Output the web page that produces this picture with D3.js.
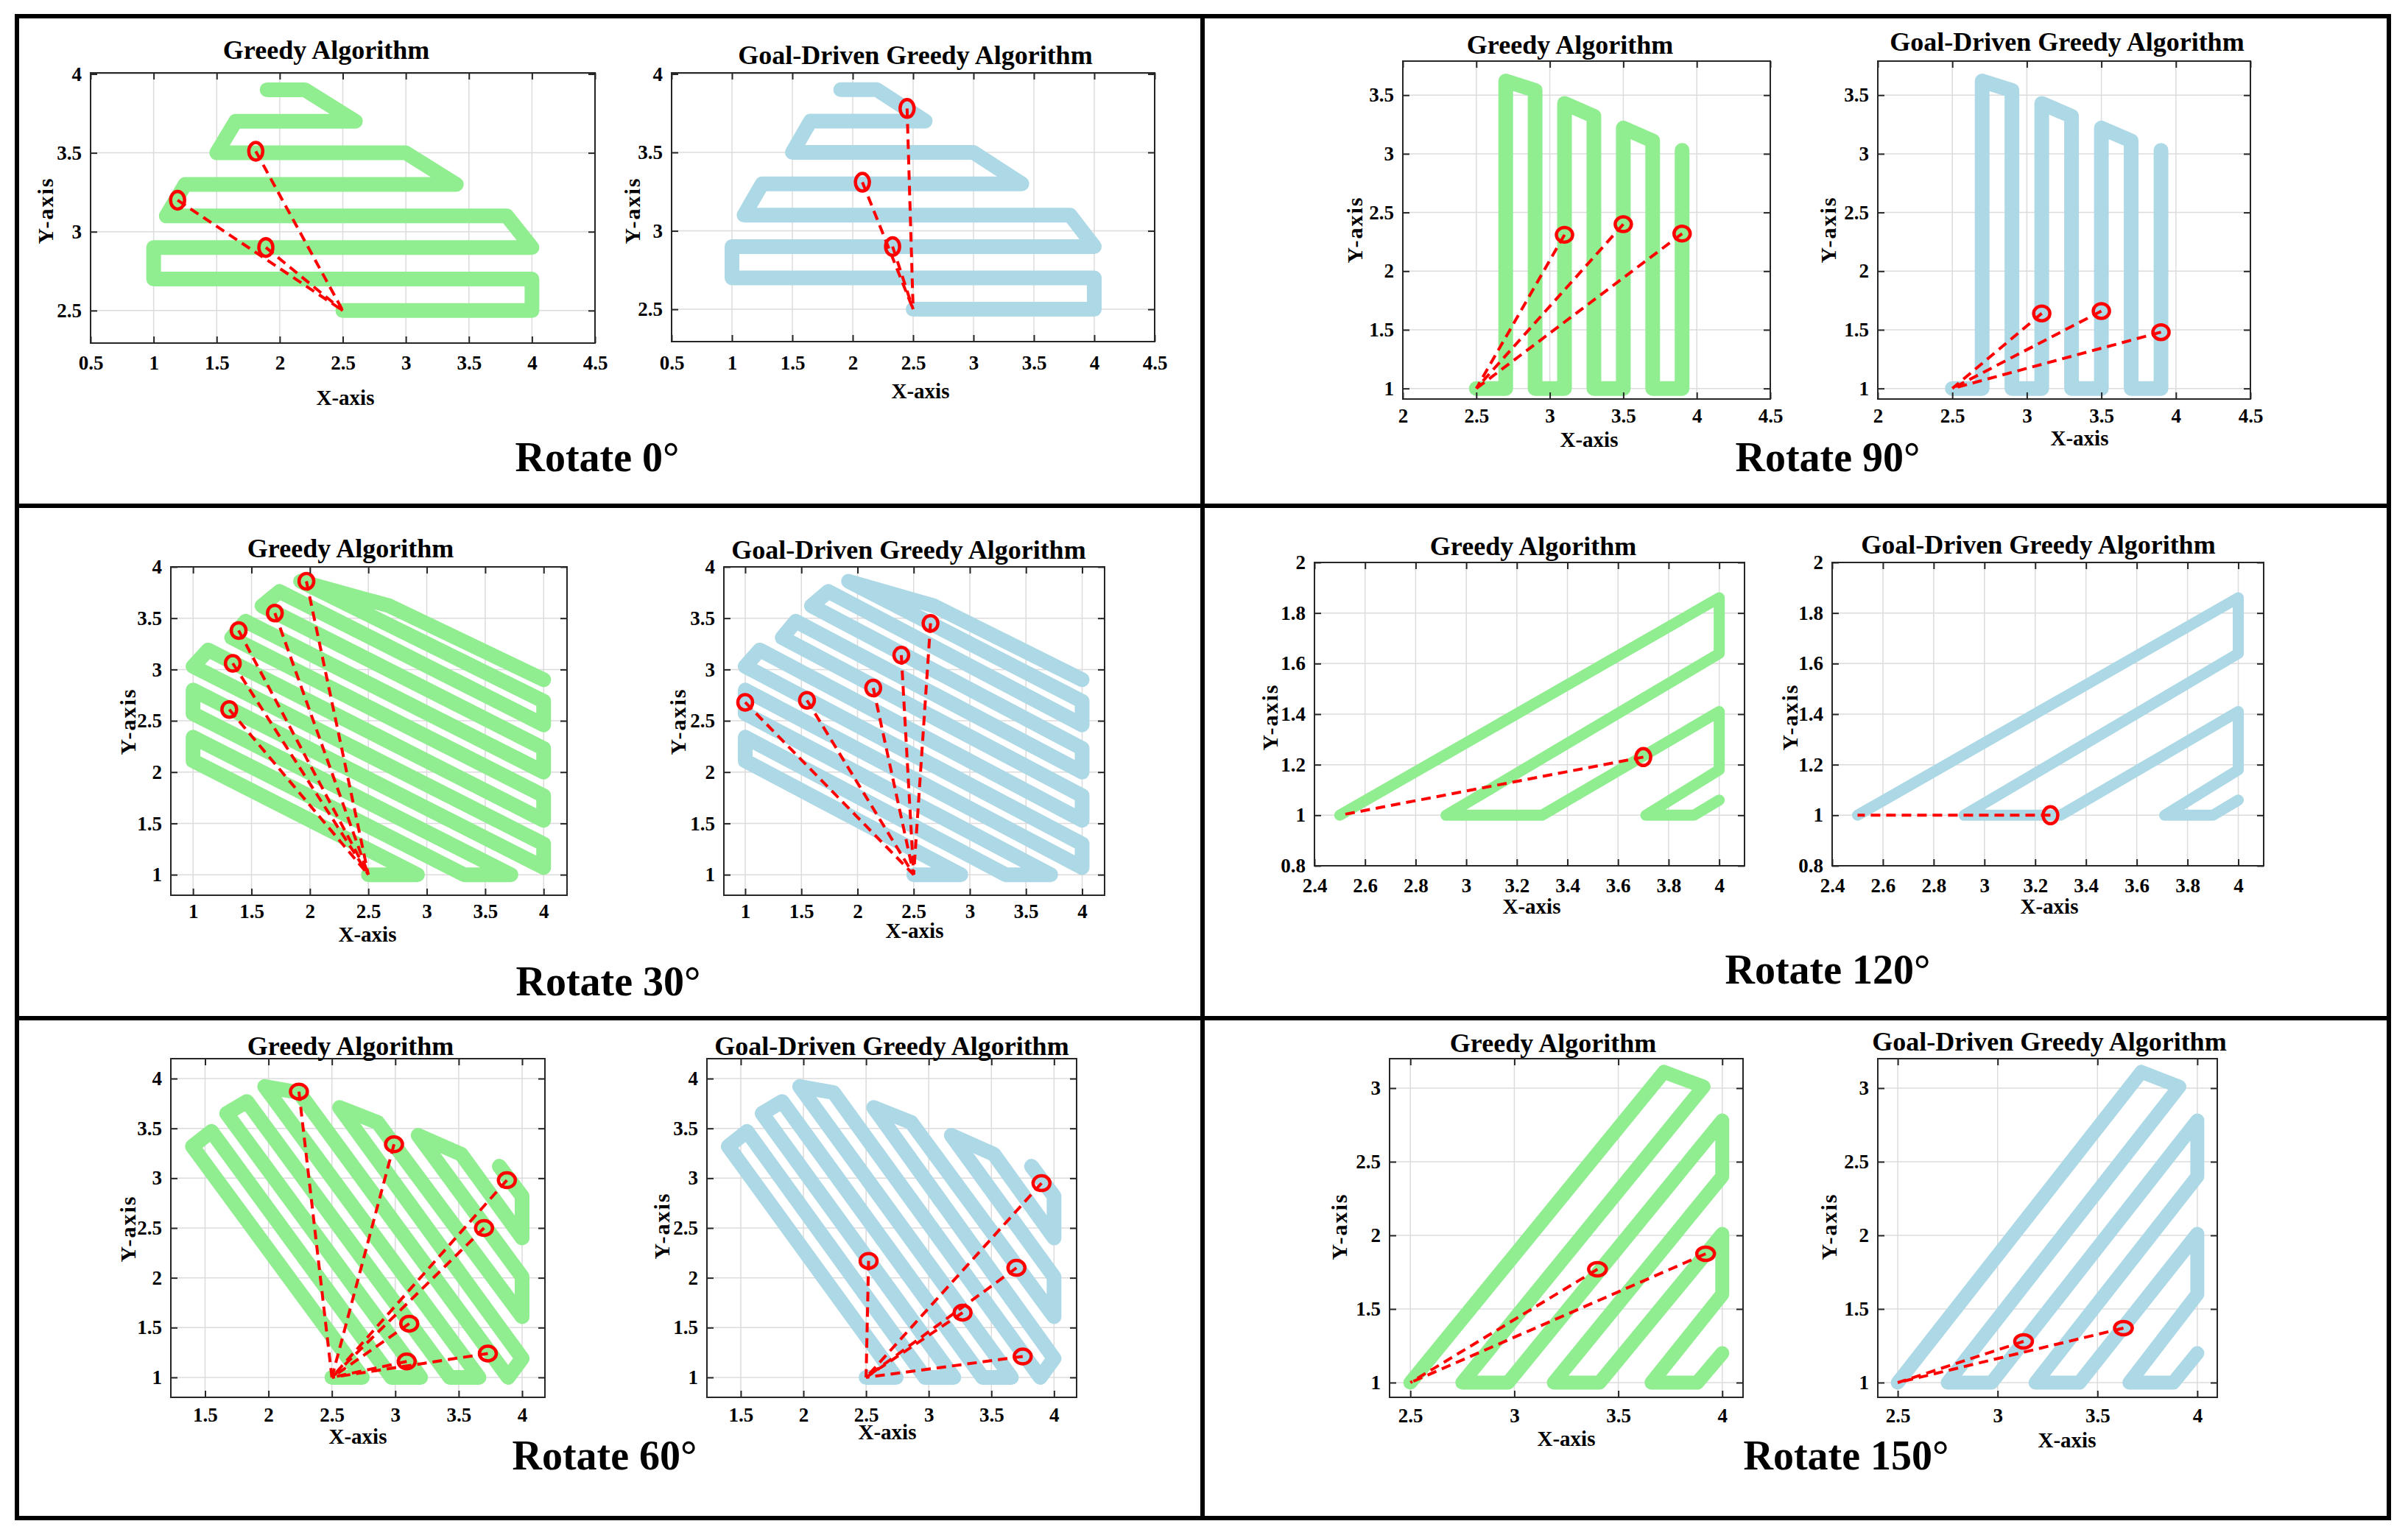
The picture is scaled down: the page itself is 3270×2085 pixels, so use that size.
<!DOCTYPE html>
<meta charset="utf-8">
<head>
<style>
  body { margin: 0; background: #fff; }
  svg text { font-family: "Liberation Serif", "Times New Roman", serif; font-weight: bold; fill: #000; }
</style>
</head>
<body>

<script src="https://cdn.jsdelivr.net/npm/d3@7"></script>

<svg id="fig" width="3270" height="2085"></svg>

<script>

// ---- values ----
var titles = ["Greedy Algorithm", "Goal-Driven Greedy Algorithm"];
var captions = ["Rotate 0°", "Rotate 90°", "Rotate 30°", "Rotate 120°", "Rotate 60°", "Rotate 150°"];

// coverage paths (same path in both subplots of a panel)
var path0 = [[2.5,2.5],[4.0,2.5],[4.0,2.7],[1.0,2.7],[1.0,2.9],[4.0,2.9],[3.8,3.1],[1.1,3.1],
             [1.25,3.3],[3.4,3.3],[3.0,3.5],[1.5,3.5],[1.65,3.7],[2.6,3.7],[2.2,3.9],[1.9,3.9]];
var path90 = [[2.5,1],[2.7,1],[2.7,3.62],[2.9,3.54],[2.9,1],[3.1,1],[3.1,3.43],[3.3,3.32],[3.3,1],
              [3.5,1],[3.5,3.22],[3.7,3.11],[3.7,1],[3.9,1],[3.9,3.03]];
var path30 = [[2.5,1.0],[2.92,1.0],[1.0,2.11],[1.0,2.34],[3.32,1.0],[3.72,1.0],[1.0,2.57],[1.0,2.80],
              [4.0,1.07],[4.0,1.30],[1.0,3.03],[1.13,3.19],[4.0,1.53],[4.0,1.77],[1.33,3.31],[1.45,3.47],
              [4.0,2.00],[4.0,2.23],[1.59,3.62],[1.74,3.76],[4.0,2.46],[4.0,2.69],[1.92,3.86],[2.68,3.62],[4.0,2.90]];
var path120 = [[2.5,1.0],[4.0,1.86],[4.0,1.64],[2.92,1.0],[3.30,1.0],[4.0,1.41],[4.0,1.18],[3.71,1.0],[3.90,1.0],[4.0,1.06]];
var path60 = [[2.5,1.0],[2.74,1.0],[1.40,3.32],[1.55,3.47],[2.97,1.0],[3.20,1.0],[1.67,3.65],[1.83,3.77],
              [3.43,1.0],[3.66,1.0],[1.97,3.92],[2.24,3.86],[3.89,1.0],[4.0,1.19],[2.56,3.71],[2.86,3.56],
              [4.0,1.61],[4.0,2.01],[3.18,3.43],[3.52,3.24],[4.0,2.40],[4.0,2.82],[3.82,3.12]];
var path150 = [[2.5,1.0],[3.72,3.11],[3.91,3.01],[2.75,1.0],[2.97,1.0],[4.0,2.78],[4.0,2.40],[3.19,1.0],
               [3.41,1.0],[4.0,2.01],[4.0,1.60],[3.66,1.0],[3.88,1.0],[4.0,1.20]];

// start points and red target markers
var start0 = [2.5,2.5], start90 = [2.5,1], start30 = [2.5,1], start120 = [2.5,1], start60 = [2.5,1], start150 = [2.5,1];

var greedy0 = [[1.81,3.51],[1.19,3.20],[1.89,2.90]];
var goal0   = [[2.45,3.78],[2.08,3.31],[2.33,2.90]];
var greedy90 = [[3.10,2.31],[3.50,2.40],[3.90,2.32]];
var goal90   = [[3.10,1.64],[3.50,1.66],[3.90,1.48]];
var greedy30 = [[1.97,3.86],[1.70,3.55],[1.39,3.38],[1.34,3.06],[1.31,2.61]];
var goal30   = [[1.0,2.68],[1.55,2.70],[2.14,2.82],[2.39,3.14],[2.65,3.45]];
var greedy120 = [[3.70,1.23]];
var goal120   = [[3.26,1.0]];
var greedy60 = [[2.24,3.87],[2.99,3.34],[3.88,2.98],[3.70,2.50],[3.11,1.54],[3.09,1.16],[3.73,1.24]];
var goal60   = [[2.52,2.17],[3.70,2.10],[3.27,1.65],[3.90,2.95],[3.75,1.21]];
var greedy150 = [[3.40,1.77],[3.92,1.875]];
var goal150   = [[3.13,1.28],[3.63,1.37]];

// axis limits and tick labels
var xLim0 = [0.5,4.5],  yLim0 = [2.294,4.007];
var xTicks0 = [0.5,1,1.5,2,2.5,3,3.5,4,4.5], yTicks0 = [2.5,3,3.5,4];
var xLim90 = [2,4.5],   yLim90 = [0.91,3.79];
var xTicks90 = [2,2.5,3,3.5,4,4.5], yTicks90 = [1,1.5,2,2.5,3,3.5];
var xLim30 = [0.81,4.2], yLim30 = [0.8,4.0];
var xTicks30 = [1,1.5,2,2.5,3,3.5,4], yTicks30 = [1,1.5,2,2.5,3,3.5,4];
var xLim120 = [2.4,4.1], yLim120 = [0.8,2.0];
var xTicks120 = [2.4,2.6,2.8,3,3.2,3.4,3.6,3.8,4], yTicks120 = [0.8,1,1.2,1.4,1.6,1.8,2];
var xLim60 = [1.23,4.18], yLim60 = [0.8,4.2];
var xTicks60 = [1.5,2,2.5,3,3.5,4], yTicks60 = [1,1.5,2,2.5,3,3.5,4];
var xLim150 = [2.4,4.1], yLim150 = [0.9,3.2];
var xTicks150 = [2.5,3,3.5,4], yTicks150 = [1,1.5,2,2.5,3];

// ---- panels: data + where things sit on the page ----
var panels = [
  { caption: captions[0], path: path0, start: start0, targets: [greedy0, goal0],
    xLim: xLim0, yLim: yLim0, xTicks: xTicks0, yTicks: yTicks0,
    capPos: [811,620], lw: 20, mk: [9.5,12],
    axes: [ {box:[123,808,99,466],  title:[443,67],  xlab:[469,540],  ylab:[61,286],  tickY:493},
            {box:[912,1568,99,464], title:[1243,74], xlab:[1250,531], ylab:[858,286], tickY:493} ] },
  { caption: captions[1], path: path90, start: start90, targets: [greedy90, goal90],
    xLim: xLim90, yLim: yLim90, xTicks: xTicks90, yTicks: yTicks90,
    capPos: [2482,620], lw: 20, mk: [11,10],
    axes: [ {box:[1905,2404,83,542], title:[2132,60], xlab:[2158,597], ylab:[1839,312], tickY:565},
            {box:[2550,3056,83,542], title:[2807,56], xlab:[2824,595], ylab:[2482,312], tickY:565} ] },
  { caption: captions[2], path: path30, start: start30, targets: [greedy30, goal30],
    xLim: xLim30, yLim: yLim30, xTicks: xTicks30, yTicks: yTicks30,
    capPos: [826,1332], lw: 20, mk: [10,10.5],
    axes: [ {box:[232,770,770,1216],  title:[476,744],  xlab:[499,1269],  ylab:[173,980], tickY:1238},
            {box:[983,1500,770,1216], title:[1234,746], xlab:[1242,1264], ylab:[920,980], tickY:1238} ] },
  { caption: captions[3], path: path120, start: start120, targets: [greedy120, goal120],
    xLim: xLim120, yLim: yLim120, xTicks: xTicks120, yTicks: yTicks120,
    capPos: [2482,1316], lw: 15, mk: [10,11.5],
    axes: [ {box:[1785,2369,764,1176], title:[2082,741], xlab:[2080,1231], ylab:[1724,974], tickY:1203},
            {box:[2488,3074,764,1176], title:[2768,739], xlab:[2783,1231], ylab:[2430,974], tickY:1203} ] },
  { caption: captions[4], path: path60, start: start60, targets: [greedy60, goal60],
    xLim: xLim60, yLim: yLim60, xTicks: xTicks60, yTicks: yTicks60,
    capPos: [821,1976], lw: 20, mk: [11.5,10],
    axes: [ {box:[232,740,1438,1898],  title:[476,1420],  xlab:[486,1951],  ylab:[173,1669], tickY:1922},
            {box:[960,1462,1438,1898], title:[1211,1420], xlab:[1205,1945], ylab:[898,1665], tickY:1922} ] },
  { caption: captions[5], path: path150, start: start150, targets: [greedy150, goal150],
    xLim: xLim150, yLim: yLim150, xTicks: xTicks150, yTicks: yTicks150,
    capPos: [2507,1976], lw: 19, mk: [12,9],
    axes: [ {box:[1887,2367,1438,1898], title:[2109,1416], xlab:[2127,1954], ylab:[1818,1666], tickY:1923},
            {box:[2550,3011,1438,1898], title:[2783,1414], xlab:[2807,1956], ylab:[2483,1666], tickY:1923} ] }
];

var pathColors = ["#90EE90", "#ADD8E6"];
var fmt = d3.format("~g");
var svg = d3.select("#fig");

svg.append("rect").attr("width", 3270).attr("height", 2085).attr("fill", "#fff");

function drawAxes(p, k) {
  var a = p.axes[k];
  var x0 = a.box[0], x1 = a.box[1], y0 = a.box[2], y1 = a.box[3];
  var x = d3.scaleLinear().domain(p.xLim).range([x0, x1]);
  var y = d3.scaleLinear().domain(p.yLim).range([y1, y0]);
  var g = svg.append("g");

  // grid
  g.selectAll(".gx").data(p.xTicks).enter().append("line")
    .attr("x1", function(d) { return x(d); }).attr("x2", function(d) { return x(d); })
    .attr("y1", y0).attr("y2", y1)
    .attr("stroke", "#dcdcdc").attr("stroke-width", 1.5);
  g.selectAll(".gy").data(p.yTicks).enter().append("line")
    .attr("y1", function(d) { return y(d); }).attr("y2", function(d) { return y(d); })
    .attr("x1", x0).attr("x2", x1)
    .attr("stroke", "#dcdcdc").attr("stroke-width", 1.5);

  // coverage path
  var line = d3.line().x(function(d) { return x(d[0]); }).y(function(d) { return y(d[1]); });
  g.append("path").datum(p.path)
    .attr("d", line)
    .attr("fill", "none")
    .attr("stroke", pathColors[k])
    .attr("stroke-width", p.lw)
    .attr("stroke-linejoin", "round")
    .attr("stroke-linecap", "round");

  // dashed links, drawn from each target back to the start
  var targets = p.targets[k];
  g.selectAll(".link").data(targets).enter().append("line")
    .attr("x1", function(d) { return x(d[0]); })
    .attr("y1", function(d) { return y(d[1]); })
    .attr("x2", x(p.start[0])).attr("y2", y(p.start[1]))
    .attr("stroke", "#ff0000").attr("stroke-width", 4)
    .attr("stroke-dasharray", "13,8");

  g.selectAll(".mk").data(targets).enter().append("ellipse")
    .attr("cx", function(d) { return x(d[0]); })
    .attr("cy", function(d) { return y(d[1]); })
    .attr("rx", p.mk[0]).attr("ry", p.mk[1])
    .attr("fill", "none").attr("stroke", "#ff0000").attr("stroke-width", 4.5);

  // axes with inward ticks on all four sides
  var pad = a.tickY - y1 - 10;
  var ax = g.append("g").attr("transform", "translate(0," + y1 + ")")
    .call(d3.axisBottom(x).tickValues(p.xTicks).tickFormat(fmt).tickSizeInner(-9).tickSizeOuter(0).tickPadding(pad));
  var ay = g.append("g").attr("transform", "translate(" + x0 + ",0)")
    .call(d3.axisLeft(y).tickValues(p.yTicks).tickFormat(fmt).tickSizeInner(-9).tickSizeOuter(0).tickPadding(12));
  var at = g.append("g").attr("transform", "translate(0," + y0 + ")")
    .call(d3.axisTop(x).tickValues(p.xTicks).tickFormat("").tickSizeInner(-9).tickSizeOuter(0));
  var ar = g.append("g").attr("transform", "translate(" + x1 + ",0)")
    .call(d3.axisRight(y).tickValues(p.yTicks).tickFormat("").tickSizeInner(-9).tickSizeOuter(0));

  [ax, ay, at, ar].forEach(function(s) {
    s.select(".domain").remove();
    s.selectAll(".tick line").attr("stroke", "#262626").attr("stroke-width", 2);
    s.attr("font-family", null).attr("font-size", 27);
  });

  g.append("rect")
    .attr("x", x0).attr("y", y0).attr("width", x1 - x0).attr("height", y1 - y0)
    .attr("fill", "none").attr("stroke", "#262626").attr("stroke-width", 2);

  // labels
  g.append("text").attr("x", a.title[0]).attr("y", a.title[1]).attr("dy", "0.35em")
    .attr("text-anchor", "middle").attr("font-size", 36).text(titles[k]);
  g.append("text").attr("x", a.xlab[0]).attr("y", a.xlab[1]).attr("dy", "0.35em")
    .attr("text-anchor", "middle").attr("font-size", 29).text("X-axis");
  g.append("text")
    .attr("transform", "translate(" + a.ylab[0] + "," + a.ylab[1] + ") rotate(-90)")
    .attr("dy", "0.35em").attr("text-anchor", "middle").attr("font-size", 30)
    .attr("letter-spacing", 2).text("Y-axis");
}

panels.forEach(function(p) {
  drawAxes(p, 0);
  drawAxes(p, 1);
  svg.append("text").attr("x", p.capPos[0]).attr("y", p.capPos[1]).attr("dy", "0.35em")
    .attr("text-anchor", "middle").attr("font-size", 56).text(p.caption);
});

// panel frames
var frame = svg.append("g").attr("stroke", "#000").attr("stroke-width", 6).attr("fill", "none");
frame.append("rect").attr("x", 23).attr("y", 22).attr("width", 3244 - 23).attr("height", 2062 - 22);
frame.append("line").attr("x1", 1633).attr("x2", 1633).attr("y1", 22).attr("y2", 2062);
frame.append("line").attr("x1", 23).attr("x2", 3244).attr("y1", 687).attr("y2", 687);
frame.append("line").attr("x1", 23).attr("x2", 3244).attr("y1", 1383).attr("y2", 1383);

</script>
</body>
